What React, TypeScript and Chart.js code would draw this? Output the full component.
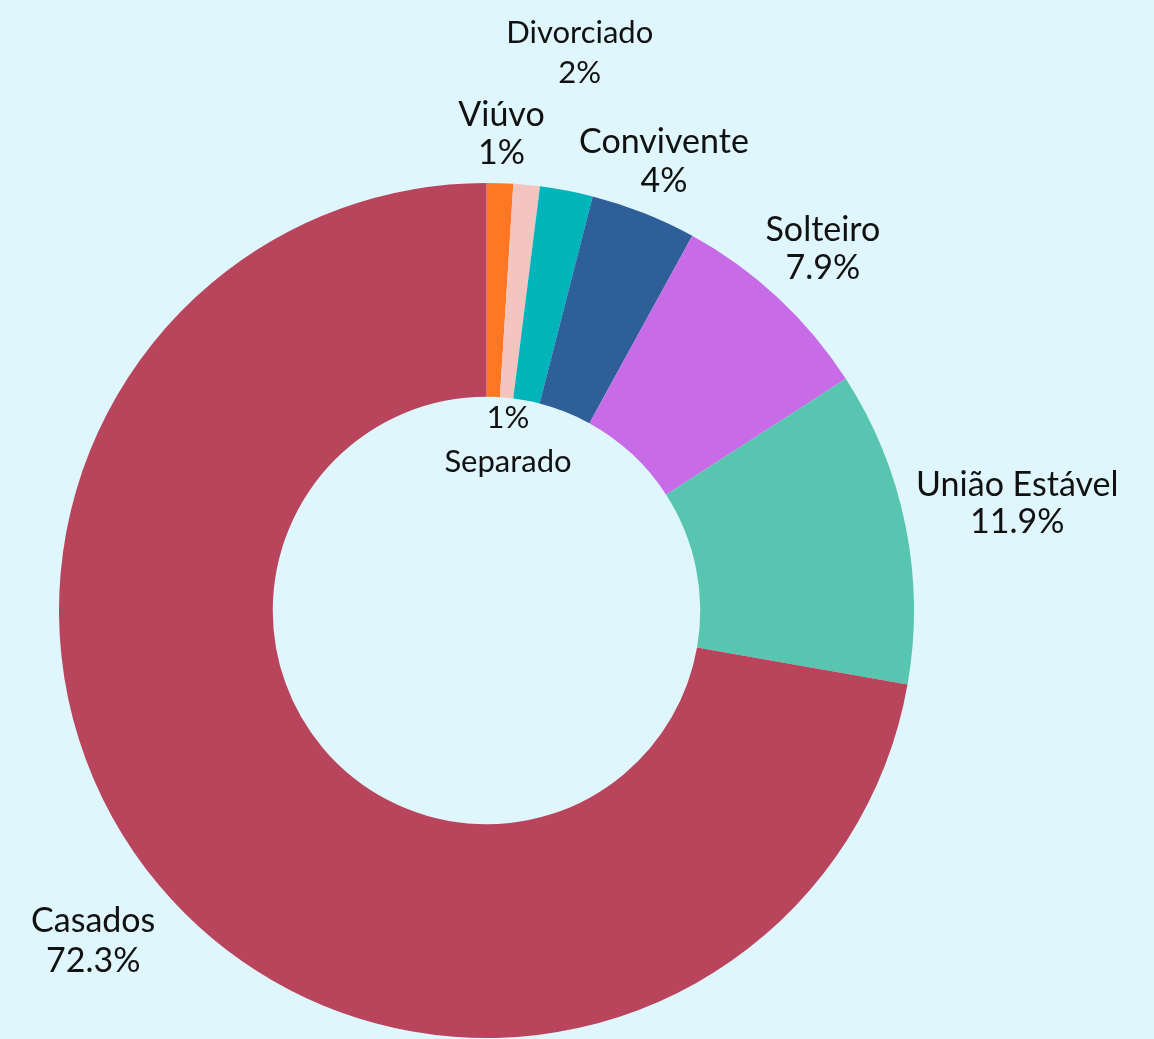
import React, { useEffect, useRef } from "react";
import { Chart, registerables } from "chart.js";

Chart.register(...registerables);

const categories = ["Viúvo", "Separado", "Divorciado", "Convivente", "Solteiro", "União Estável", "Casados"];
const values = [1, 1, 2, 4, 7.9, 11.9, 72.3];
const valueLabels = ["1%", "1%", "2%", "4%", "7.9%", "11.9%", "72.3%"];

// styling: slice colours and label placement (distance beyond the ring edge, angle nudge in degrees)
const sliceColors = ["#FF7722", "#F4C5BE", "#00B4BB", "#2F5F98", "#C86BE6", "#58C5B0", "#B9455D"];
const labelInside = [false, true, false, false, false, false, false];
const labelDistance = [49, 42, 138, 55, 66, 114, 86];
const labelNudge = [0, 1.8, -1.3, 0, 0, 0, 0];
const labelLineHeight = [38, 44, 40, 39, 38, 37, 40];
const labelFontSize = [34, 31, 31, 34, 34, 34, 34];

const BG = "#DEF6FC";
const FONT_FAMILY = "Lato, 'Noto Sans', sans-serif";

const labelPlugin = {
  id: "outerLabels",
  afterDatasetsDraw(chart: any) {
    const meta = chart.getDatasetMeta(0);
    const ctx = chart.ctx;
    ctx.save();
    ctx.fillStyle = "#111111";
    ctx.textAlign = "center";
    ctx.textBaseline = "middle";
    meta.data.forEach((arc: any, i: number) => {
      const p = arc.getProps(["x", "y", "startAngle", "endAngle", "outerRadius", "innerRadius"], true);
      const mid = (p.startAngle + p.endAngle) / 2 + (labelNudge[i] * Math.PI) / 180;
      const dist = labelInside[i] ? p.innerRadius - labelDistance[i] : p.outerRadius + labelDistance[i];
      const cx = p.x + Math.cos(mid) * dist;
      const cy = p.y + Math.sin(mid) * dist;
      const lh = labelLineHeight[i];
      const lines = labelInside[i] ? [valueLabels[i], categories[i]] : [categories[i], valueLabels[i]];
      ctx.font = `${labelFontSize[i]}px ${FONT_FAMILY}`;
      ctx.fillText(lines[0], cx, cy - lh / 2);
      ctx.fillText(lines[1], cx, cy + lh / 2);
    });
    ctx.restore();
  },
};

export default function App() {
  const ref = useRef<HTMLCanvasElement | null>(null);
  useEffect(() => {
    document.body.style.margin = "0";
    document.body.style.background = BG;
    const chart = new Chart(ref.current as HTMLCanvasElement, {
      type: "doughnut",
      data: {
        labels: categories,
        datasets: [
          {
            data: values,
            backgroundColor: sliceColors,
            borderWidth: 0,
            hoverOffset: 0,
          },
        ],
      },
      options: {
        animation: false,
        responsive: false,
        cutout: "50%",
        layout: { padding: { left: 59, top: 183, right: 240, bottom: 1 } },
        plugins: {
          legend: { display: false },
          tooltip: { enabled: false },
        },
      },
      plugins: [labelPlugin],
    });
    return () => chart.destroy();
  }, []);
  return (
    <div style={{ width: 1154, height: 1039, background: BG }}>
      <canvas ref={ref} width={1154} height={1039} style={{ display: "block" }} />
    </div>
  );
}
